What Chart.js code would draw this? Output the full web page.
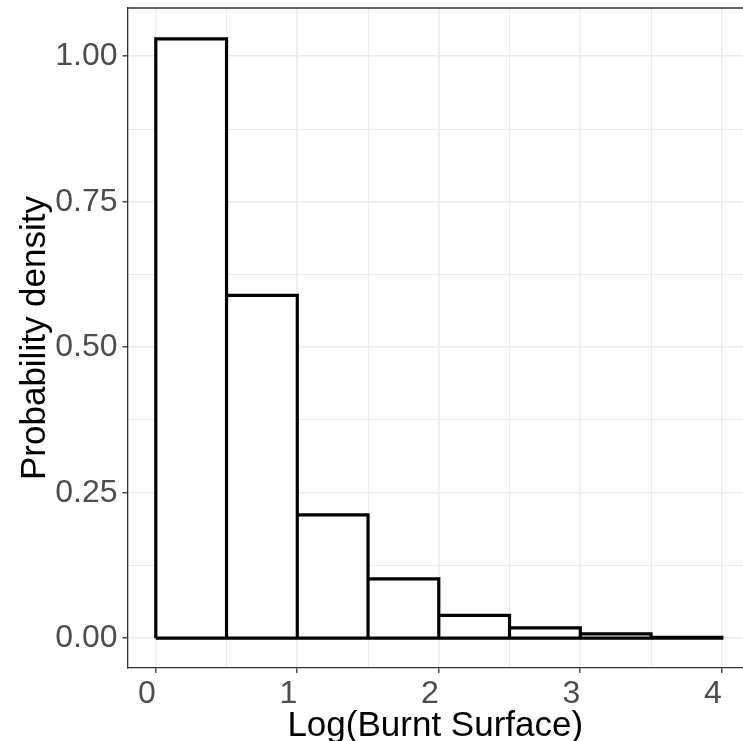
<!DOCTYPE html>
<html>
<head>
<meta charset="utf-8">
<script src="https://cdn.jsdelivr.net/npm/chart.js@4"></script>
<style>
  html, body { margin: 0; padding: 0; background: #ffffff; }
  #wrap { width: 743px; height: 741px; }
</style>
</head>
<body>
<div id="wrap"><canvas id="c" width="743" height="741"></canvas></div>
<script>
// ---- data ----
const binEdges = [0, 0.5, 1, 1.5, 2, 2.5, 3, 3.5, 4];
const density  = [1.030, 0.589, 0.212, 0.102, 0.039, 0.0175, 0.0072, 0.0015];

const xMajorTicks = [0, 1, 2, 3, 4];
const xMinorTicks = [0.5, 1.5, 2.5, 3.5];
const yMajorTicks = [0, 0.25, 0.5, 0.75, 1.0];
const yMinorTicks = [0.125, 0.375, 0.625, 0.875];
const yTickLabels = ['0.00', '0.25', '0.50', '0.75', '1.00'];

const xTitle = 'Log(Burnt Surface)';
const yTitle = 'Probability density';

// ---- derived structures ----
const barData = density.map((d, i) => ({ x: (binEdges[i] + binEdges[i + 1]) / 2, y: d }));
const outline = [];
density.forEach((d, i) => {
  outline.push({ x: binEdges[i], y: 0 });
  outline.push({ x: binEdges[i], y: d });
  outline.push({ x: binEdges[i + 1], y: d });
  outline.push({ x: binEdges[i + 1], y: 0 });
});
outline.push({ x: binEdges[0], y: 0 });

const isMajor = (arr, v) => arr.some(t => Math.abs(t - v) < 1e-9);
const FONT = "'Liberation Sans', Arial, Helvetica, sans-serif";
const GRID = '#EBEBEB';
const AXIS = '#333333';

const topBorder = {
  id: 'topBorder',
  afterDraw(chart) {
    const { ctx, chartArea } = chart;
    ctx.save();
    ctx.strokeStyle = AXIS;
    ctx.lineWidth = 1.3;
    ctx.beginPath();
    ctx.moveTo(chartArea.left, chartArea.top);
    ctx.lineTo(chart.width, chartArea.top);
    ctx.stroke();
    ctx.restore();
  }
};

new Chart(document.getElementById('c'), {
  type: 'bar',
  data: {
    datasets: [
      {
        type: 'line',
        data: outline,
        borderColor: '#000000',
        borderWidth: 3.2,
        borderJoinStyle: 'miter',
        borderCapStyle: 'butt',
        pointRadius: 0,
        fill: false,
        tension: 0,
        order: 0
      },
      {
        type: 'bar',
        data: barData,
        backgroundColor: '#ffffff',
        borderWidth: 0,
        barPercentage: 1,
        categoryPercentage: 1,
        inflateAmount: 0,
        order: 1
      }
    ]
  },
  options: {
    responsive: false,
    animation: false,
    devicePixelRatio: 1,
    layout: { padding: { top: 8, right: 0, left: 0, bottom: 0 } },
    plugins: { legend: { display: false }, tooltip: { enabled: false } },
    scales: {
      x: {
        type: 'linear',
        offset: false,
        min: -0.2,
        max: 4.15,
        afterBuildTicks: s => { s.ticks = [...xMajorTicks, ...xMinorTicks].sort((a, b) => a - b).map(v => ({ value: v })); },
        afterFit: s => { s.height = 73; s.paddingLeft = 0; s.paddingRight = 0; },
        grid: {
          offset: false,
          color: GRID,
          lineWidth: c => isMajor(xMajorTicks, c.tick.value) ? 1.6 : 1.0,
          tickColor: c => isMajor(xMajorTicks, c.tick.value) ? AXIS : 'rgba(0,0,0,0)',
          tickWidth: 1.3,
          tickLength: 5
        },
        border: { display: true, color: AXIS, width: 1.3 },
        ticks: {
          autoSkip: false,
          maxRotation: 0,
          color: '#4D4D4D',
          font: { family: FONT, size: 32 },
          padding: 2,
          labelOffset: -9,
          callback: v => isMajor(xMajorTicks, v) ? String(v) : ''
        },
        title: {
          display: true,
          text: xTitle,
          color: '#000000',
          font: { family: FONT, size: 35, lineHeight: 0.85 },
          padding: { top: 0, bottom: 0 }
        }
      },
      y: {
        type: 'linear',
        min: -0.0513,
        max: 1.083,
        afterBuildTicks: s => { s.ticks = [...yMajorTicks, ...yMinorTicks].sort((a, b) => a - b).map(v => ({ value: v })); },
        afterFit: s => { s.width = 127.5; s.paddingTop = 0; s.paddingBottom = 0; },
        grid: {
          color: GRID,
          lineWidth: c => isMajor(yMajorTicks, c.tick.value) ? 1.6 : 1.0,
          tickColor: c => isMajor(yMajorTicks, c.tick.value) ? AXIS : 'rgba(0,0,0,0)',
          tickWidth: 1.3,
          tickLength: 5
        },
        border: { display: true, color: AXIS, width: 1.3 },
        ticks: {
          autoSkip: false,
          color: '#4D4D4D',
          font: { family: FONT, size: 32 },
          padding: 5,
          callback: v => {
            const i = yMajorTicks.findIndex(t => Math.abs(t - v) < 1e-9);
            return i >= 0 ? yTickLabels[i] : '';
          }
        },
        title: {
          display: true,
          text: yTitle,
          color: '#000000',
          font: { family: FONT, size: 35, lineHeight: 1.2 },
          padding: { top: 14, bottom: 0 }
        }
      }
    }
  },
  plugins: [topBorder]
});
</script>
</body>
</html>
